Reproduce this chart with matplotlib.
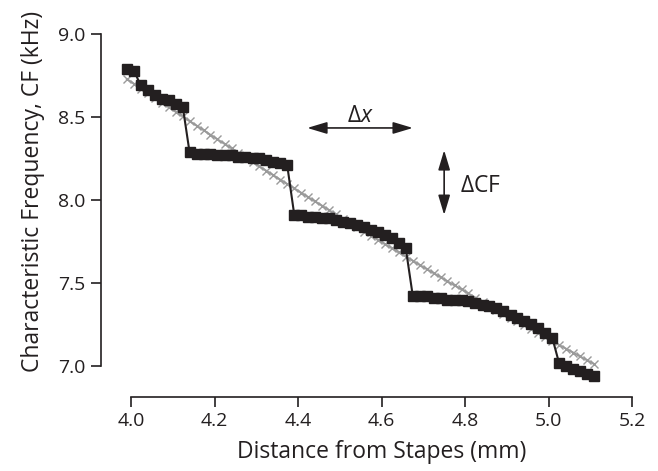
import matplotlib
matplotlib.use("Agg")
import matplotlib.pyplot as plt

plt.rcParams['font.family'] = ['Open Sans', 'DejaVu Sans']
plt.rcParams['mathtext.fontset'] = 'custom'
plt.rcParams['mathtext.rm'] = 'Open Sans'
plt.rcParams['mathtext.it'] = 'Open Sans:italic'

INK = '#231f20'
GREY = '#9a9a9a'

# position along the cochlea (mm)
distance = [3.990, 4.007, 4.023, 4.040, 4.057, 4.073, 4.090, 4.107, 4.124, 4.140,
            4.157, 4.174, 4.190, 4.207, 4.224, 4.241, 4.257, 4.274, 4.291, 4.307,
            4.324, 4.341, 4.357, 4.374, 4.391, 4.408, 4.424, 4.441, 4.458, 4.474,
            4.491, 4.508, 4.524, 4.541, 4.558, 4.575, 4.591, 4.608, 4.625, 4.641,
            4.658, 4.675, 4.691, 4.708, 4.725, 4.742, 4.758, 4.775, 4.792, 4.808,
            4.825, 4.842, 4.858, 4.875, 4.892, 4.909, 4.925, 4.942, 4.959, 4.975,
            4.992, 5.009, 5.025, 5.042, 5.059, 5.075, 5.092, 5.109]

# measured characteristic frequency (kHz), staircase profile
cf_measured = [8.79, 8.78, 8.69, 8.66, 8.63, 8.61, 8.60, 8.58, 8.56,
               8.29, 8.28, 8.28, 8.28, 8.27, 8.27, 8.27, 8.26, 8.26, 8.25,
               8.25, 8.24, 8.23, 8.22, 8.21,
               7.91, 7.91, 7.90, 7.90, 7.89, 7.89, 7.88, 7.87, 7.86, 7.85,
               7.84, 7.82, 7.81, 7.79, 7.77, 7.74, 7.71,
               7.42, 7.42, 7.42, 7.41, 7.41, 7.40, 7.40, 7.40, 7.39, 7.38,
               7.37, 7.36, 7.35, 7.33, 7.31, 7.29, 7.27, 7.25, 7.23, 7.20, 7.17,
               7.02, 7.00, 6.98, 6.97, 6.95, 6.94]

# smooth tonotopic map (kHz)
cf_map = [8.728, 8.700, 8.671, 8.643, 8.615, 8.587, 8.559, 8.531, 8.503, 8.475,
          8.448, 8.420, 8.393, 8.365, 8.338, 8.311, 8.284, 8.257, 8.230, 8.203,
          8.176, 8.149, 8.123, 8.096, 8.070, 8.043, 8.017, 7.991, 7.965, 7.939,
          7.913, 7.887, 7.861, 7.836, 7.810, 7.785, 7.759, 7.734, 7.709, 7.684,
          7.659, 7.634, 7.609, 7.584, 7.559, 7.534, 7.510, 7.485, 7.461, 7.437,
          7.412, 7.388, 7.364, 7.340, 7.316, 7.292, 7.268, 7.245, 7.221, 7.197,
          7.174, 7.151, 7.127, 7.104, 7.081, 7.058, 7.035, 7.012]

x_ticks = [4.0, 4.2, 4.4, 4.6, 4.8, 5.0, 5.2]
y_ticks = [7.0, 7.5, 8.0, 8.5, 9.0]

fig = plt.figure(figsize=(6.58, 4.71), dpi=100)
ax = fig.add_axes([0.1535, 0.1571, 0.807, 0.7707])

ax.plot(distance, cf_map, color=GREY, lw=1.4, marker='x', ms=5.5, mew=1.0,
        zorder=2)
ax.plot(distance, cf_measured, color=INK, lw=1.5, marker='s', ms=7.8,
        mec=INK, mfc=INK, zorder=3)

# step-size annotations
arrow = dict(arrowstyle='<|-|>,head_length=0.6,head_width=0.18',
             color=INK, lw=1.2, shrinkA=0, shrinkB=0, mutation_scale=20)
ax.annotate('', xy=(4.422, 8.434), xytext=(4.675, 8.434), arrowprops=arrow)
ax.text(4.549, 8.47, r'$\mathrm{\Delta}x$', ha='center', va='baseline',
        fontsize=16.5, color=INK)
ax.annotate('', xy=(4.750, 8.30), xytext=(4.750, 7.91), arrowprops=arrow)
ax.text(4.788, 8.084, r'$\mathrm{\Delta CF}$', ha='left', va='center',
        fontsize=16.5, color=INK)

ax.set_xlim(3.928, 5.2)
ax.set_ylim(6.813, 9.0)
ax.set_xticks(x_ticks)
ax.set_yticks(y_ticks)
ax.set_xticklabels([f'{v:.1f}' for v in x_ticks])
ax.set_yticklabels([f'{v:.1f}' for v in y_ticks])

for side in ('top', 'right'):
    ax.spines[side].set_visible(False)
for side in ('left', 'bottom'):
    ax.spines[side].set_linewidth(1.2)
    ax.spines[side].set_color(INK)
ax.spines['left'].set_bounds(7.0, 9.0)
ax.spines['bottom'].set_bounds(4.0, 5.2)

ax.tick_params(direction='out', length=7, width=1.2, color=INK,
               labelsize=14, labelcolor=INK, pad=4)

ax.set_xlabel('Distance from Stapes (mm)', fontsize=16.5, color=INK)
ax.set_ylabel('Characteristic Frequency, CF (kHz)', fontsize=16.5, color=INK)
ax.xaxis.set_label_coords(0.528, -0.118)
ax.yaxis.set_label_coords(-0.105, 0.565)

fig.savefig('out.png', dpi=100)
